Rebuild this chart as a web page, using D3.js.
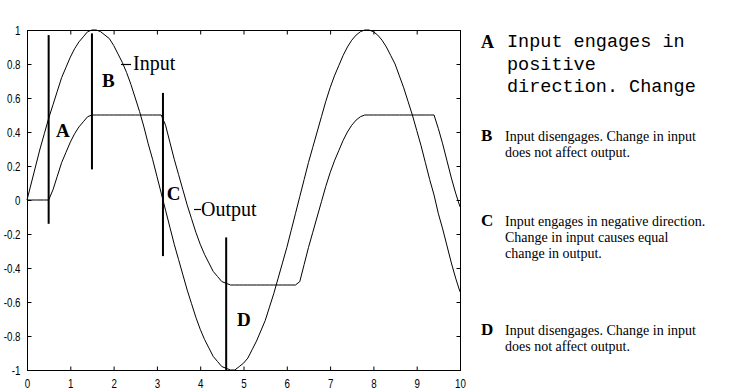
<!DOCTYPE html>
<html>
<head>
<meta charset="utf-8">
<script src="https://cdn.jsdelivr.net/npm/d3@7"></script>
<style>
  body { margin: 0; background: #fff; }
  svg { display: block; }
  .tick text { font-family: "Liberation Sans", Arial, sans-serif; font-size: 12.5px; fill: #000; }
</style>
</head>
<body>
<div id="chart"></div>
<script>
// sample points along x (0 .. 10, step 0.1)
var xs = [0.0,0.1,0.2,0.3,0.4,0.5,0.6,0.7,0.8,0.9,1.0,1.1,1.2,1.3,1.4,1.5,1.6,1.7,1.8,1.9,
  2.0,2.1,2.2,2.3,2.4,2.5,2.6,2.7,2.8,2.9,3.0,3.1,3.2,3.3,3.4,3.5,3.6,3.7,3.8,3.9,
  4.0,4.1,4.2,4.3,4.4,4.5,4.6,4.7,4.8,4.9,5.0,5.1,5.2,5.3,5.4,5.5,5.6,5.7,5.8,5.9,
  6.0,6.1,6.2,6.3,6.4,6.5,6.6,6.7,6.8,6.9,7.0,7.1,7.2,7.3,7.4,7.5,7.6,7.7,7.8,7.9,
  8.0,8.1,8.2,8.3,8.4,8.5,8.6,8.7,8.8,8.9,9.0,9.1,9.2,9.3,9.4,9.5,9.6,9.7,9.8,9.9,10.0];

var inputVals = [0.00,0.10,0.20,0.30,0.39,0.48,0.56,0.64,0.72,0.78,0.84,0.89,0.93,0.96,0.99,1.00,1.00,0.99,0.97,0.95,
  0.91,0.86,0.81,0.75,0.68,0.60,0.52,0.43,0.33,0.24,0.14,0.04,-0.06,-0.16,-0.26,-0.35,-0.44,-0.53,-0.61,-0.69,
  -0.76,-0.82,-0.87,-0.92,-0.95,-0.98,-0.99,-1.00,-1.00,-0.98,-0.96,-0.93,-0.88,-0.83,-0.77,-0.71,-0.63,-0.55,-0.46,-0.37,
  -0.28,-0.18,-0.08,0.02,0.12,0.22,0.31,0.40,0.49,0.58,0.66,0.73,0.79,0.85,0.90,0.94,0.97,0.99,1.00,1.00,
  0.99,0.97,0.94,0.90,0.85,0.80,0.73,0.66,0.58,0.50,0.41,0.32,0.22,0.12,0.03,-0.08,-0.17,-0.27,-0.37,-0.46,-0.54];

var outputVals = [0,0,0,0,0,0,0.06,0.14,0.22,0.28,0.34,0.39,0.43,0.46,0.49,0.50,0.50,0.50,0.50,0.50,
  0.50,0.50,0.50,0.50,0.50,0.50,0.50,0.50,0.50,0.50,0.50,0.50,0.44,0.34,0.24,0.15,0.06,-0.03,-0.11,-0.19,
  -0.26,-0.32,-0.37,-0.42,-0.45,-0.48,-0.49,-0.50,-0.50,-0.50,-0.50,-0.50,-0.50,-0.50,-0.50,-0.50,-0.50,-0.50,-0.50,-0.50,
  -0.50,-0.50,-0.50,-0.48,-0.38,-0.28,-0.19,-0.10,-0.01,0.08,0.16,0.23,0.29,0.35,0.40,0.44,0.47,0.49,0.50,0.50,
  0.50,0.50,0.50,0.50,0.50,0.50,0.50,0.50,0.50,0.50,0.50,0.50,0.50,0.50,0.50,0.42,0.33,0.23,0.13,0.04,-0.04];

// engage / disengage markers
var markerNames = ["A", "B", "C", "D"];
var markerX = [0.5, 1.5, 3.14, 4.6];
var markerTop = [0.97, 0.98, 0.63, -0.22];
var markerBottom = [-0.14, 0.18, -0.33, -1.0];
var markerLabelX = [0.67, 1.73, 3.23, 4.85];
var markerLabelY = [0.37, 0.665, 0.0, -0.74];

var xTicks = [0, 1, 2, 3, 4, 5, 6, 7, 8, 9, 10];
var yTicks = [-1, -0.8, -0.6, -0.4, -0.2, 0, 0.2, 0.4, 0.6, 0.8, 1];

var notes = [
  "Input disengages. Change in input|does not affect output.",
  "Input engages in negative direction.|Change in input causes equal|change in output.",
  "Input disengages. Change in input|does not affect output."
];

var W = 750, H = 392;
var plotL = 27, plotR = 460, plotT = 30, plotB = 370;

var svg = d3.select("#chart").append("svg")
  .attr("width", W).attr("height", H);

var x = d3.scaleLinear().domain([0, 10]).range([plotL, plotR]);
var y = d3.scaleLinear().domain([-1, 1]).range([plotB, plotT]);

// axes, ticks pointing inward
var gx = svg.append("g")
  .attr("transform", "translate(0," + (plotB + 0.5) + ")")
  .call(d3.axisBottom(x).tickValues(xTicks).tickSizeInner(-4).tickSizeOuter(0).tickPadding(9).tickFormat(d3.format("d")));
gx.selectAll(".tick text").attr("transform", "scale(0.78,1)");

var gy = svg.append("g")
  .attr("transform", "translate(" + (plotL + 0.5) + ",0)")
  .call(d3.axisLeft(y).tickValues(yTicks).tickSizeInner(-4).tickSizeOuter(0).tickFormat(function (d) { return String(+d.toFixed(1)); }));
gy.selectAll(".tick text").attr("x", 0).attr("transform", "translate(-7,0) scale(0.78,1)");

svg.append("g")
  .attr("transform", "translate(0," + (plotT + 0.5) + ")")
  .call(d3.axisTop(x).tickValues(xTicks).tickSizeInner(-4).tickSizeOuter(0).tickFormat(""));
svg.append("g")
  .attr("transform", "translate(" + (plotR + 0.5) + ",0)")
  .call(d3.axisRight(y).tickValues(yTicks).tickSizeInner(-4).tickSizeOuter(0).tickFormat(""));
svg.selectAll(".domain").remove();
svg.selectAll(".tick line").attr("stroke", "#000");

svg.append("rect")
  .attr("x", plotL + 0.5).attr("y", plotT + 0.5)
  .attr("width", plotR - plotL).attr("height", plotB - plotT)
  .attr("fill", "none").attr("stroke", "#000").attr("stroke-width", 1);

var line = d3.line()
  .x(function (d, i) { return x(xs[i]); })
  .y(function (d) { return y(d); });

svg.append("path").attr("d", line(inputVals))
  .attr("fill", "none").attr("stroke", "#000").attr("stroke-width", 1);
svg.append("path").attr("d", line(outputVals))
  .attr("fill", "none").attr("stroke", "#000").attr("stroke-width", 1);

// markers
markerX.forEach(function (mx, i) {
  svg.append("line")
    .attr("x1", x(mx)).attr("x2", x(mx))
    .attr("y1", y(markerTop[i])).attr("y2", y(markerBottom[i]))
    .attr("stroke", "#000").attr("stroke-width", 2);
  svg.append("text")
    .attr("x", x(markerLabelX[i])).attr("y", y(markerLabelY[i]))
    .attr("font-family", "Liberation Serif, Times New Roman, serif")
    .attr("font-weight", "bold").attr("font-size", 19)
    .text(markerNames[i]);
});

// curve labels
svg.append("line").attr("x1", 121).attr("x2", 131).attr("y1", 64.5).attr("y2", 64.5)
  .attr("stroke", "#000").attr("stroke-width", 1.2);
svg.append("text").attr("x", 133).attr("y", 70)
  .attr("font-family", "Liberation Serif, Times New Roman, serif").attr("font-size", 20)
  .text("Input");
svg.append("line").attr("x1", 194).attr("x2", 201).attr("y1", 209.5).attr("y2", 209.5)
  .attr("stroke", "#000").attr("stroke-width", 1.2);
svg.append("text").attr("x", 201).attr("y", 216)
  .attr("font-family", "Liberation Serif, Times New Roman, serif").attr("font-size", 20)
  .text("Output");

// side notes
var side = svg.append("g");
side.append("text").attr("x", 481).attr("y", 48)
  .attr("font-family", "Liberation Serif, serif").attr("font-weight", "bold").attr("font-size", 18)
  .text("A");
var mono = side.append("text")
  .attr("font-family", "Liberation Mono, DejaVu Sans Mono, monospace").attr("font-size", 18.5);
["Input engages in", "positive", "direction. Change"].forEach(function (s, i) {
  mono.append("tspan").attr("x", 507).attr("y", 47 + i * 22.5).text(s);
});

var noteY = [141, 226, 335];
notes.forEach(function (n, i) {
  side.append("text").attr("x", 481).attr("y", noteY[i])
    .attr("font-family", "Liberation Serif, serif").attr("font-weight", "bold").attr("font-size", 17)
    .text(markerNames[i + 1]);
  var t = side.append("text")
    .attr("font-family", "Liberation Serif, serif").attr("font-size", 14);
  n.split("|").forEach(function (s, j) {
    t.append("tspan").attr("x", 505).attr("y", noteY[i] + j * 16).text(s);
  });
});
</script>
</body>
</html>
